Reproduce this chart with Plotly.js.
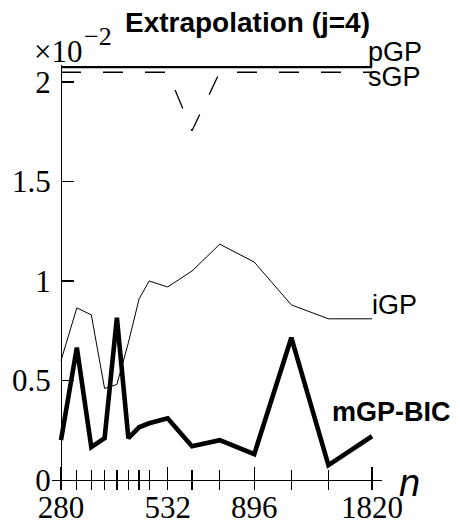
<!DOCTYPE html>
<html>
<head>
<meta charset="utf-8">
<script src="https://cdn.plot.ly/plotly-3.0.1.min.js"></script>
<style>html,body{margin:0;padding:0;background:#fff;}#chart{width:460px;height:521px;}</style>
</head>
<body>
<div id="chart"></div>
<script>
// sample sizes n (log axis)
var nValues = [280, 308, 336, 364, 392, 420, 448, 476, 532, 616, 728, 896, 1120, 1400, 1820];
// labelled / unlabelled ticks
var majorTicks = [280, 532, 896, 1820];
var majorTickText = ['280', '532', '896', '1820'];
var minorTicks = [308, 336, 364, 392, 420, 448, 476, 616, 728, 1120, 1400];
var yTicks = [0, 0.5, 1, 1.5, 2];
var yTickText = ['0', '0.5', '1', '1.5', '2'];

// series values (×10^-2)
var pGP = [2.075, 2.075, 2.075, 2.075, 2.075, 2.075, 2.075, 2.075, 2.075, 2.075, 2.075, 2.075, 2.075, 2.075, 2.075];
var sGP = [2.049, 2.049, 2.049, 2.049, 2.049, 2.049, 2.049, 2.049, 2.049, 1.755, 2.049, 2.049, 2.049, 2.049, 2.049];
var iGP = [0.60, 0.865, 0.83, 0.46, 0.48, 0.69, 0.91, 1.0, 0.97, 1.05, 1.185, 1.095, 0.88, 0.81, 0.81];
var mGPBIC = [0.20, 0.665, 0.165, 0.21, 0.815, 0.21, 0.265, 0.285, 0.31, 0.17, 0.20, 0.13, 0.715, 0.075, 0.22];

var last = nValues.length - 1;
var xr = [Math.log10(280) - 9 / 382.6, Math.log10(1820) + 10 / 382.6];
var serif = 'Liberation Serif, Times New Roman, serif';
var sans = 'Liberation Sans, Arial, Helvetica, sans-serif';

var traces = [
  {x: nValues, y: iGP, mode: 'lines', line: {color: '#000', width: 1}, hoverinfo: 'skip', name: 'iGP'},
  {x: nValues, y: sGP, mode: 'lines', line: {color: '#000', width: 1.3, dash: '20px,22px'}, hoverinfo: 'skip', name: 'sGP'},
  {x: nValues, y: pGP, mode: 'lines', line: {color: '#000', width: 2.2}, hoverinfo: 'skip', name: 'pGP'},
  {x: nValues, y: mGPBIC, mode: 'lines', line: {color: '#000', width: 4.6}, hoverinfo: 'skip', name: 'mGP-BIC'},
  {x: [nValues[0]], y: [0], xaxis: 'x2', mode: 'lines', hoverinfo: 'skip', showlegend: false}
];

function lab(text, x, y, xs, ys, bold) {
  return {x: Math.log10(x), y: y, xref: 'x', yref: 'y', text: text, showarrow: false,
    xanchor: 'left', yanchor: 'middle', xshift: xs, yshift: ys,
    font: {family: sans, size: 27, color: '#000', weight: bold ? 'bold' : 'normal'}};
}

var layout = {
  width: 460, height: 521,
  margin: {l: 52, r: 78, t: 65, b: 41},
  paper_bgcolor: '#fff', plot_bgcolor: '#fff',
  showlegend: false,
  title: {text: '<b>Extrapolation (j=4)</b>', x: 0.538, xref: 'container', xanchor: 'center',
    y: 0.957, yref: 'container', yanchor: 'middle',
    font: {family: sans, size: 28, color: '#000'}},
  xaxis: {type: 'log', range: xr, showgrid: false, zeroline: false,
    showline: true, linecolor: '#000', linewidth: 1.3,
    tickmode: 'array', tickvals: majorTicks, ticktext: majorTickText,
    ticks: 'inside', ticklen: 13, tickwidth: 1.3, tickcolor: '#000',
    ticklabelstandoff: -1,
    minor: {tickmode: 'array', tickvals: minorTicks, ticks: 'inside', ticklen: 10, tickwidth: 1.3, tickcolor: '#000', showgrid: false},
    tickfont: {family: serif, size: 31, color: '#000'}},
  xaxis2: {type: 'log', range: xr, overlaying: 'x', anchor: 'y', side: 'bottom',
    showgrid: false, zeroline: false, showline: false, showticklabels: false,
    tickmode: 'array', tickvals: nValues,
    ticks: 'outside', ticklen: 9, tickwidth: 1.3, tickcolor: '#000'},
  yaxis: {range: [0, 415 / 199], anchor: 'free', position: 9 / 330,
    showgrid: false, zeroline: false, showline: true, linecolor: '#000', linewidth: 1.3,
    tickmode: 'array', tickvals: yTicks, ticktext: yTickText,
    ticks: 'inside', ticklen: 12, tickwidth: 1.3, tickcolor: '#000',
    ticklabelstandoff: 4,
    tickfont: {family: serif, size: 31, color: '#000'}},
  annotations: [
    lab('pGP', nValues[last], pGP[last], -6, 15, false),
    lab('sGP', nValues[last], sGP[last], -6, -5, false),
    lab('iGP', nValues[last], iGP[last], -2, 14, false),
    lab('mGP-BIC', nValues[last], mGPBIC[last], -42, 24, true),
    {xref: 'paper', yref: 'paper', x: (409 - 52) / 330, y: -0.007, text: '<i>n</i>', showarrow: false,
      xanchor: 'center', yanchor: 'middle', font: {family: sans, size: 38, color: '#000'}},
    {xref: 'paper', yref: 'paper', x: (32 - 52) / 330, y: (480 - 51) / 415, text: '×10', showarrow: false,
      xanchor: 'left', yanchor: 'middle', font: {family: serif, size: 31, color: '#000'}},
    {xref: 'paper', yref: 'paper', x: (82 - 52) / 330, y: (480 - 36) / 415, text: '−2', showarrow: false,
      xanchor: 'left', yanchor: 'middle', font: {family: serif, size: 26, color: '#000'}}
  ]
};

Plotly.newPlot('chart', traces, layout, {staticPlot: true, displayModeBar: false});
</script>
</body>
</html>
